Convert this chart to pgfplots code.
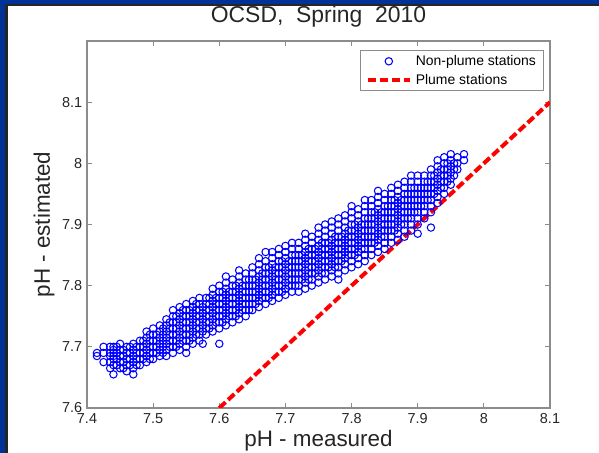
\documentclass[border=0pt]{standalone}
\usepackage{pgfplots}
\pgfplotsset{compat=1.18}
\usepackage{pgfplotstable}
\usepackage{fontspec}
\setmainfont{Liberation Sans}
\definecolor{frameblue}{RGB}{0,51,153}
\definecolor{axgray}{RGB}{140,140,140}
\definecolor{txtgray}{RGB}{38,38,38}

\pgfplotstableread[row sep=\\]{
x y\\
7.415 7.685\\ 7.415 7.69\\
7.425 7.675\\ 7.425 7.69\\ 7.425 7.70\\
7.435 7.665\\ 7.435 7.675\\ 7.435 7.685\\ 7.435 7.69\\ 7.435 7.70\\
7.44 7.655\\ 7.44 7.67\\ 7.44 7.68\\ 7.44 7.685\\ 7.44 7.69\\ 7.44 7.695\\ 7.44 7.70\\
7.445 7.67\\ 7.445 7.68\\ 7.445 7.69\\ 7.445 7.70\\
7.45 7.665\\ 7.45 7.675\\ 7.45 7.685\\ 7.45 7.695\\ 7.45 7.705\\
7.46 7.66\\ 7.46 7.67\\ 7.46 7.68\\ 7.46 7.69\\ 7.46 7.70\\
7.47 7.655\\ 7.47 7.665\\ 7.47 7.675\\ 7.47 7.685\\ 7.47 7.695\\ 7.47 7.705\\
7.48 7.67\\ 7.48 7.68\\ 7.48 7.69\\ 7.48 7.70\\ 7.48 7.71\\
7.49 7.675\\ 7.49 7.685\\ 7.49 7.695\\ 7.49 7.705\\ 7.49 7.715\\ 7.49 7.725\\
7.50 7.68\\ 7.50 7.69\\ 7.50 7.70\\ 7.50 7.71\\ 7.50 7.72\\ 7.50 7.73\\
7.51 7.685\\ 7.51 7.695\\ 7.51 7.705\\ 7.51 7.715\\ 7.51 7.725\\ 7.51 7.735\\
7.52 7.685\\ 7.52 7.695\\ 7.52 7.705\\ 7.52 7.715\\ 7.52 7.725\\ 7.52 7.735\\ 7.52 7.745\\
7.53 7.69\\ 7.53 7.70\\ 7.53 7.71\\ 7.53 7.72\\ 7.53 7.73\\ 7.53 7.74\\ 7.53 7.75\\ 7.53 7.76\\
7.54 7.695\\ 7.54 7.705\\ 7.54 7.715\\ 7.54 7.725\\ 7.54 7.735\\ 7.54 7.745\\ 7.54 7.755\\ 7.54 7.765\\
7.55 7.69\\ 7.55 7.70\\ 7.55 7.71\\ 7.55 7.72\\ 7.55 7.73\\ 7.55 7.74\\ 7.55 7.75\\ 7.55 7.76\\ 7.55 7.77\\
7.56 7.705\\ 7.56 7.715\\ 7.56 7.725\\ 7.56 7.735\\ 7.56 7.745\\ 7.56 7.755\\ 7.56 7.765\\ 7.56 7.775\\
7.57 7.71\\ 7.57 7.72\\ 7.57 7.73\\ 7.57 7.74\\ 7.57 7.75\\ 7.57 7.76\\ 7.57 7.77\\ 7.57 7.78\\
7.575 7.705\\
7.58 7.72\\ 7.58 7.73\\ 7.58 7.74\\ 7.58 7.75\\ 7.58 7.76\\ 7.58 7.77\\ 7.58 7.78\\
7.59 7.725\\ 7.59 7.735\\ 7.59 7.745\\ 7.59 7.755\\ 7.59 7.765\\ 7.59 7.775\\ 7.59 7.785\\ 7.59 7.795\\
7.60 7.705\\ 7.60 7.73\\ 7.60 7.74\\ 7.60 7.75\\ 7.60 7.76\\ 7.60 7.77\\ 7.60 7.78\\ 7.60 7.79\\ 7.60 7.80\\
7.61 7.735\\ 7.61 7.745\\ 7.61 7.755\\ 7.61 7.765\\ 7.61 7.775\\ 7.61 7.785\\ 7.61 7.795\\ 7.61 7.805\\ 7.61 7.815\\
7.62 7.74\\ 7.62 7.75\\ 7.62 7.76\\ 7.62 7.77\\ 7.62 7.78\\ 7.62 7.79\\ 7.62 7.80\\ 7.62 7.81\\
7.63 7.745\\ 7.63 7.755\\ 7.63 7.765\\ 7.63 7.775\\ 7.63 7.785\\ 7.63 7.795\\ 7.63 7.805\\ 7.63 7.815\\ 7.63 7.825\\
7.64 7.75\\ 7.64 7.76\\ 7.64 7.77\\ 7.64 7.78\\ 7.64 7.79\\ 7.64 7.80\\ 7.64 7.81\\ 7.64 7.82\\
7.65 7.76\\ 7.65 7.77\\ 7.65 7.78\\ 7.65 7.79\\ 7.65 7.80\\ 7.65 7.81\\ 7.65 7.82\\ 7.65 7.83\\
7.66 7.765\\ 7.66 7.775\\ 7.66 7.785\\ 7.66 7.795\\ 7.66 7.805\\ 7.66 7.815\\ 7.66 7.825\\ 7.66 7.835\\ 7.66 7.845\\
7.67 7.77\\ 7.67 7.78\\ 7.67 7.79\\ 7.67 7.80\\ 7.67 7.81\\ 7.67 7.82\\ 7.67 7.83\\ 7.67 7.84\\ 7.67 7.855\\
7.68 7.775\\ 7.68 7.785\\ 7.68 7.795\\ 7.68 7.805\\ 7.68 7.815\\ 7.68 7.825\\ 7.68 7.835\\ 7.68 7.845\\ 7.68 7.855\\
7.69 7.78\\ 7.69 7.79\\ 7.69 7.80\\ 7.69 7.81\\ 7.69 7.82\\ 7.69 7.83\\ 7.69 7.84\\ 7.69 7.85\\ 7.69 7.86\\
7.70 7.785\\ 7.70 7.795\\ 7.70 7.805\\ 7.70 7.815\\ 7.70 7.825\\ 7.70 7.835\\ 7.70 7.845\\ 7.70 7.855\\ 7.70 7.865\\
7.71 7.79\\ 7.71 7.80\\ 7.71 7.81\\ 7.71 7.82\\ 7.71 7.83\\ 7.71 7.84\\ 7.71 7.85\\ 7.71 7.86\\ 7.71 7.87\\
7.72 7.79\\ 7.72 7.80\\ 7.72 7.81\\ 7.72 7.82\\ 7.72 7.83\\ 7.72 7.84\\ 7.72 7.85\\ 7.72 7.86\\ 7.72 7.87\\
7.73 7.795\\ 7.73 7.805\\ 7.73 7.815\\ 7.73 7.825\\ 7.73 7.835\\ 7.73 7.845\\ 7.73 7.855\\ 7.73 7.865\\ 7.73 7.875\\ 7.73 7.885\\
7.74 7.80\\ 7.74 7.81\\ 7.74 7.82\\ 7.74 7.83\\ 7.74 7.84\\ 7.74 7.85\\ 7.74 7.86\\ 7.74 7.87\\ 7.74 7.88\\
7.75 7.805\\ 7.75 7.815\\ 7.75 7.825\\ 7.75 7.835\\ 7.75 7.845\\ 7.75 7.855\\ 7.75 7.865\\ 7.75 7.875\\ 7.75 7.885\\ 7.75 7.895\\
7.76 7.81\\ 7.76 7.82\\ 7.76 7.83\\ 7.76 7.84\\ 7.76 7.85\\ 7.76 7.86\\ 7.76 7.87\\ 7.76 7.88\\ 7.76 7.89\\ 7.76 7.90\\
7.77 7.815\\ 7.77 7.825\\ 7.77 7.835\\ 7.77 7.845\\ 7.77 7.855\\ 7.77 7.865\\ 7.77 7.875\\ 7.77 7.885\\ 7.77 7.895\\ 7.77 7.905\\
7.78 7.81\\ 7.78 7.82\\ 7.78 7.83\\ 7.78 7.84\\ 7.78 7.85\\ 7.78 7.86\\ 7.78 7.87\\ 7.78 7.88\\ 7.78 7.89\\ 7.78 7.90\\ 7.78 7.91\\
7.79 7.825\\ 7.79 7.835\\ 7.79 7.845\\ 7.79 7.855\\ 7.79 7.865\\ 7.79 7.875\\ 7.79 7.885\\ 7.79 7.895\\ 7.79 7.905\\ 7.79 7.915\\
7.80 7.83\\ 7.80 7.84\\ 7.80 7.85\\ 7.80 7.86\\ 7.80 7.87\\ 7.80 7.88\\ 7.80 7.89\\ 7.80 7.90\\ 7.80 7.91\\ 7.80 7.92\\ 7.80 7.93\\
7.81 7.835\\ 7.81 7.845\\ 7.81 7.855\\ 7.81 7.865\\ 7.81 7.875\\ 7.81 7.885\\ 7.81 7.895\\ 7.81 7.905\\ 7.81 7.915\\ 7.81 7.925\\
7.82 7.84\\ 7.82 7.85\\ 7.82 7.86\\ 7.82 7.87\\ 7.82 7.88\\ 7.82 7.89\\ 7.82 7.90\\ 7.82 7.91\\ 7.82 7.92\\ 7.82 7.93\\ 7.82 7.94\\
7.83 7.85\\ 7.83 7.86\\ 7.83 7.87\\ 7.83 7.88\\ 7.83 7.89\\ 7.83 7.90\\ 7.83 7.91\\ 7.83 7.92\\ 7.83 7.93\\ 7.83 7.94\\
7.84 7.855\\ 7.84 7.865\\ 7.84 7.875\\ 7.84 7.885\\ 7.84 7.895\\ 7.84 7.905\\ 7.84 7.915\\ 7.84 7.925\\ 7.84 7.935\\ 7.84 7.945\\ 7.84 7.955\\
7.85 7.86\\ 7.85 7.87\\ 7.85 7.88\\ 7.85 7.89\\ 7.85 7.90\\ 7.85 7.91\\ 7.85 7.92\\ 7.85 7.93\\ 7.85 7.94\\ 7.85 7.95\\
7.86 7.87\\ 7.86 7.88\\ 7.86 7.89\\ 7.86 7.90\\ 7.86 7.91\\ 7.86 7.92\\ 7.86 7.93\\ 7.86 7.94\\ 7.86 7.95\\ 7.86 7.96\\
7.87 7.875\\ 7.87 7.885\\ 7.87 7.895\\ 7.87 7.905\\ 7.87 7.915\\ 7.87 7.925\\ 7.87 7.935\\ 7.87 7.945\\ 7.87 7.955\\ 7.87 7.965\\
7.88 7.88\\ 7.88 7.89\\ 7.88 7.90\\ 7.88 7.91\\ 7.88 7.92\\ 7.88 7.93\\ 7.88 7.94\\ 7.88 7.95\\ 7.88 7.96\\ 7.88 7.97\\
7.89 7.89\\ 7.89 7.90\\ 7.89 7.91\\ 7.89 7.92\\ 7.89 7.93\\ 7.89 7.94\\ 7.89 7.95\\ 7.89 7.96\\ 7.89 7.97\\ 7.89 7.98\\
7.90 7.885\\ 7.90 7.90\\ 7.90 7.91\\ 7.90 7.92\\ 7.90 7.93\\ 7.90 7.94\\ 7.90 7.95\\ 7.90 7.96\\ 7.90 7.97\\ 7.90 7.98\\
7.91 7.91\\ 7.91 7.92\\ 7.91 7.93\\ 7.91 7.94\\ 7.91 7.95\\ 7.91 7.96\\ 7.91 7.97\\ 7.91 7.98\\
7.92 7.895\\ 7.92 7.92\\ 7.92 7.93\\ 7.92 7.94\\ 7.92 7.95\\ 7.92 7.96\\ 7.92 7.97\\ 7.92 7.98\\ 7.92 7.99\\
7.93 7.935\\ 7.93 7.945\\ 7.93 7.955\\ 7.93 7.965\\ 7.93 7.975\\ 7.93 7.985\\ 7.93 7.995\\ 7.93 8.005\\
7.94 7.95\\ 7.94 7.96\\ 7.94 7.97\\ 7.94 7.98\\ 7.94 7.99\\ 7.94 8.00\\ 7.94 8.01\\
7.95 7.965\\ 7.95 7.975\\ 7.95 7.985\\ 7.95 7.995\\ 7.95 8.005\\ 7.95 8.015\\
7.96 7.99\\ 7.96 8.00\\ 7.96 8.01\\
7.97 8.005\\ 7.97 8.015\\
7.455 7.665\\ 7.455 7.675\\ 7.455 7.685\\ 7.455 7.695\\
7.465 7.67\\ 7.465 7.68\\ 7.465 7.69\\ 7.465 7.70\\
7.475 7.67\\ 7.475 7.68\\ 7.475 7.69\\ 7.475 7.70\\
7.485 7.68\\ 7.485 7.69\\ 7.485 7.70\\ 7.485 7.71\\
7.495 7.68\\ 7.495 7.69\\ 7.495 7.70\\ 7.495 7.71\\ 7.495 7.72\\
7.505 7.69\\ 7.505 7.70\\ 7.505 7.71\\ 7.505 7.72\\
7.515 7.69\\ 7.515 7.70\\ 7.515 7.71\\ 7.515 7.72\\ 7.515 7.73\\
7.525 7.70\\ 7.525 7.71\\ 7.525 7.72\\ 7.525 7.73\\ 7.525 7.74\\
7.535 7.70\\ 7.535 7.71\\ 7.535 7.72\\ 7.535 7.73\\ 7.535 7.74\\ 7.535 7.75\\
7.545 7.71\\ 7.545 7.72\\ 7.545 7.73\\ 7.545 7.74\\ 7.545 7.75\\ 7.545 7.76\\
7.555 7.71\\ 7.555 7.72\\ 7.555 7.73\\ 7.555 7.74\\ 7.555 7.75\\ 7.555 7.76\\
7.565 7.72\\ 7.565 7.73\\ 7.565 7.74\\ 7.565 7.75\\ 7.565 7.76\\ 7.565 7.77\\
7.575 7.725\\ 7.575 7.735\\ 7.575 7.745\\ 7.575 7.755\\ 7.575 7.765\\
7.585 7.73\\ 7.585 7.74\\ 7.585 7.75\\ 7.585 7.76\\ 7.585 7.77\\ 7.585 7.78\\
7.595 7.74\\ 7.595 7.75\\ 7.595 7.76\\ 7.595 7.77\\ 7.595 7.78\\
7.605 7.74\\ 7.605 7.75\\ 7.605 7.76\\ 7.605 7.77\\ 7.605 7.78\\ 7.605 7.79\\
7.615 7.75\\ 7.615 7.76\\ 7.615 7.77\\ 7.615 7.78\\ 7.615 7.79\\
7.625 7.75\\ 7.625 7.76\\ 7.625 7.77\\ 7.625 7.78\\ 7.625 7.79\\ 7.625 7.80\\
7.635 7.76\\ 7.635 7.77\\ 7.635 7.78\\ 7.635 7.79\\ 7.635 7.80\\
7.645 7.76\\ 7.645 7.77\\ 7.645 7.78\\ 7.645 7.79\\ 7.645 7.80\\ 7.645 7.81\\
7.655 7.77\\ 7.655 7.78\\ 7.655 7.79\\ 7.655 7.80\\ 7.655 7.81\\
7.665 7.78\\ 7.665 7.79\\ 7.665 7.80\\ 7.665 7.81\\ 7.665 7.82\\
7.675 7.78\\ 7.675 7.79\\ 7.675 7.80\\ 7.675 7.81\\ 7.675 7.82\\ 7.675 7.83\\
7.685 7.79\\ 7.685 7.80\\ 7.685 7.81\\ 7.685 7.82\\ 7.685 7.83\\
7.695 7.79\\ 7.695 7.80\\ 7.695 7.81\\ 7.695 7.82\\ 7.695 7.83\\ 7.695 7.84\\
7.705 7.80\\ 7.705 7.81\\ 7.705 7.82\\ 7.705 7.83\\ 7.705 7.84\\
7.715 7.80\\ 7.715 7.81\\ 7.715 7.82\\ 7.715 7.83\\ 7.715 7.84\\ 7.715 7.85\\
7.725 7.81\\ 7.725 7.82\\ 7.725 7.83\\ 7.725 7.84\\ 7.725 7.85\\
7.735 7.81\\ 7.735 7.82\\ 7.735 7.83\\ 7.735 7.84\\ 7.735 7.85\\ 7.735 7.86\\
7.745 7.82\\ 7.745 7.83\\ 7.745 7.84\\ 7.745 7.85\\ 7.745 7.86\\
7.755 7.82\\ 7.755 7.83\\ 7.755 7.84\\ 7.755 7.85\\ 7.755 7.86\\ 7.755 7.87\\
7.765 7.83\\ 7.765 7.84\\ 7.765 7.85\\ 7.765 7.86\\ 7.765 7.87\\
7.775 7.83\\ 7.775 7.84\\ 7.775 7.85\\ 7.775 7.86\\ 7.775 7.87\\ 7.775 7.88\\
7.785 7.84\\ 7.785 7.85\\ 7.785 7.86\\ 7.785 7.87\\ 7.785 7.88\\
7.795 7.85\\ 7.795 7.86\\ 7.795 7.87\\ 7.795 7.88\\ 7.795 7.89\\
7.805 7.85\\ 7.805 7.86\\ 7.805 7.87\\ 7.805 7.88\\ 7.805 7.89\\ 7.805 7.90\\
7.815 7.86\\ 7.815 7.87\\ 7.815 7.88\\ 7.815 7.89\\ 7.815 7.90\\
7.825 7.87\\ 7.825 7.88\\ 7.825 7.89\\ 7.825 7.90\\ 7.825 7.91\\
7.835 7.87\\ 7.835 7.88\\ 7.835 7.89\\ 7.835 7.90\\ 7.835 7.91\\ 7.835 7.92\\
7.845 7.88\\ 7.845 7.89\\ 7.845 7.90\\ 7.845 7.91\\ 7.845 7.92\\
7.855 7.89\\ 7.855 7.90\\ 7.855 7.91\\ 7.855 7.92\\ 7.855 7.93\\
7.865 7.89\\ 7.865 7.90\\ 7.865 7.91\\ 7.865 7.92\\ 7.865 7.93\\ 7.865 7.94\\
7.875 7.90\\ 7.875 7.91\\ 7.875 7.92\\ 7.875 7.93\\ 7.875 7.94\\
7.885 7.91\\ 7.885 7.92\\ 7.885 7.93\\ 7.885 7.94\\ 7.885 7.95\\
7.895 7.92\\ 7.895 7.93\\ 7.895 7.94\\ 7.895 7.95\\ 7.895 7.96\\
7.905 7.93\\ 7.905 7.94\\ 7.905 7.95\\ 7.905 7.96\\
7.915 7.94\\ 7.915 7.95\\ 7.915 7.96\\ 7.915 7.97\\
7.925 7.95\\ 7.925 7.96\\ 7.925 7.97\\ 7.925 7.98\\
7.935 7.96\\ 7.935 7.97\\ 7.935 7.98\\ 7.935 7.99\\
7.945 7.97\\ 7.945 7.98\\ 7.945 7.99\\ 7.945 8.00\\
7.955 7.98\\ 7.955 7.99\\ 7.955 8.00\\
}\nonplume

\pgfplotstableread[row sep=\\]{
x y\\
7.6 7.6\\
8.1 8.1\\
}\plume

\begin{document}
\begin{tikzpicture}
\useasboundingbox (0,0) rectangle (599bp,453bp);
\fill[frameblue] (0,0) rectangle (599bp,453bp);
\fill[black!85] (5bp,0) rectangle (599bp,449bp);
\fill[white] (7.5bp,0) rectangle (599bp,447bp);
\begin{axis}[
  at={(87bp,45bp)}, anchor=south west,
  scale only axis, width=463bp, height=367bp,
  xmin=7.4, xmax=8.1, ymin=7.6, ymax=8.2,
  xtick={7.4,7.5,7.6,7.7,7.8,7.9,8,8.1},
  ytick={7.6,7.7,7.8,7.9,8,8.1},
  tick align=inside, major tick length=5bp,
  axis line style={axgray, line width=1.2bp},
  tick style={axgray, line width=0.8bp},
  /pgf/number format/assume math mode=true,
  ticklabel style={font=\fontsize{14.5}{16}\selectfont, text=txtgray},
  xticklabel style={anchor=base, yshift=-16bp},
  yticklabel style={anchor=east, xshift=-1.2bp},
  title={OCSD,\ \ Spring\ \ 2010},
  title style={at={(axis description cs:0.5,1)}, anchor=base, yshift=13bp,
    font=\fontsize{23}{27}\selectfont, text=txtgray},
  xlabel={pH - measured},
  ylabel={pH - estimated},
  every axis x label/.style={at={(axis description cs:0.5,0)}, anchor=base, yshift=-39bp,
    font=\fontsize{22.5}{26}\selectfont, text=txtgray},
  every axis y label/.style={at={(axis description cs:0,0.5)}, anchor=center, xshift=-43bp, rotate=90,
    font=\fontsize{22.5}{26}\selectfont, text=txtgray},
  legend image code/.code={\draw[mark repeat=2,mark phase=2,#1] plot coordinates {(0bp,0bp) (21bp,0bp) (42bp,0bp)};},
  legend style={at={(1,1)}, anchor=north east, xshift=-6bp, yshift=-9bp,
    draw=axgray, line width=1bp, fill=white,
    font=\fontsize{14}{16}\selectfont, text=black,
    inner xsep=5.5bp, inner ysep=3bp, row sep=3bp, column sep=2bp,
    nodes={inner sep=2bp}},
  legend cell align=left,
]
\addplot[only marks, mark=o, mark size=3.7bp, blue, mark options={line width=1.05bp}] table[x=x,y=y] {\nonplume};
\addplot[red, line width=4bp, dash pattern=on 8.5bp off 3.5bp] table[x=x,y=y] {\plume};
\legend{Non-plume stations, Plume stations}
\end{axis}
\end{tikzpicture}
\end{document}
